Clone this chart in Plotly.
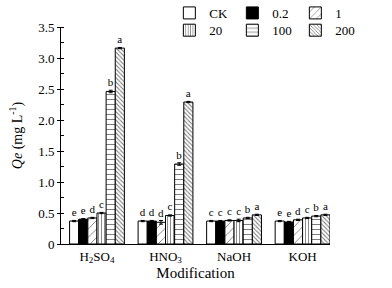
import plotly.graph_objects as go

categories = ["H<sub>2</sub>SO<sub>4</sub>", "HNO<sub>3</sub>", "NaOH", "KOH"]
series_names = ["CK", "0.2", "1", "20", "100", "200"]

ck = [0.37, 0.37, 0.37, 0.37]
c02 = [0.40, 0.37, 0.37, 0.355]
c1 = [0.42, 0.35, 0.38, 0.39]
c20 = [0.50, 0.46, 0.38, 0.42]
c100 = [2.46, 1.29, 0.42, 0.45]
c200 = [3.16, 2.29, 0.47, 0.47]
values = [ck, c02, c1, c20, c100, c200]

err_ck = [0.01, 0.01, 0.01, 0.01]
err_02 = [0.01, 0.01, 0.01, 0.01]
err_1 = [0.01, 0.03, 0.01, 0.01]
err_20 = [0.01, 0.01, 0.02, 0.01]
err_100 = [0.02, 0.02, 0.01, 0.01]
err_200 = [0.01, 0.01, 0.01, 0.01]
errors = [err_ck, err_02, err_1, err_20, err_100, err_200]

letters_ck = ["e", "d", "c", "e"]
letters_02 = ["e", "d", "c", "e"]
letters_1 = ["d", "d", "c", "d"]
letters_20 = ["c", "c", "c", "c"]
letters_100 = ["b", "b", "b", "b"]
letters_200 = ["a", "a", "a", "a"]
letters = [letters_ck, letters_02, letters_1, letters_20, letters_100, letters_200]

y_tickvals = [0, 0.5, 1.0, 1.5, 2.0, 2.5, 3.0, 3.5]
y_ticktext = ["0", "0.5", "1.0", "1.5", "2.0", "2.5", "3.0", "3.5"]

styles = [
    dict(color="white", pattern=dict(shape="")),
    dict(color="black", pattern=dict(shape="")),
    dict(color="white", pattern=dict(shape="/", fgcolor="black", bgcolor="white", size=6, solidity=0.15)),
    dict(color="white", pattern=dict(shape="|", fgcolor="black", bgcolor="white", size=3, solidity=0.3)),
    dict(color="white", pattern=dict(shape="-", fgcolor="black", bgcolor="white", size=5, solidity=0.2)),
    dict(color="white", pattern=dict(shape="\\", fgcolor="black", bgcolor="white", size=3, solidity=0.35)),
]

FONT = "Liberation Serif, Times New Roman, serif"

fig = go.Figure()
for i, name in enumerate(series_names):
    st = styles[i]
    fig.add_trace(go.Bar(
        x=categories, y=values[i], name=name,
        marker=dict(color=st["color"], pattern=st["pattern"],
                    line=dict(color="black", width=1)),
        error_y=dict(type="data", array=errors[i], color="black", thickness=1, width=2),
        text=letters[i], textposition="outside", constraintext="none",
        textfont=dict(family=FONT, size=11, color="black"),
        cliponaxis=False,
        legend="legend" if i < 3 else "legend2",
    ))

legend_common = dict(orientation="h", xref="container", yref="container",
                     xanchor="left", yanchor="middle",
                     bgcolor="rgba(0,0,0,0)", font=dict(family=FONT, size=13),
                     itemwidth=30, tracegroupgap=0, entrywidth=18, entrywidthmode="pixels")

fig.update_layout(
    width=392, height=288,
    margin=dict(l=61, r=62, t=27, b=44, autoexpand=False),
    paper_bgcolor="white", plot_bgcolor="white",
    font=dict(family=FONT, size=12, color="black"),
    barmode="group", bargap=0.2, bargroupgap=0,
    legend=dict(x=0.432, y=0.955, **legend_common),
    legend2=dict(x=0.432, y=0.895, **legend_common),
    xaxis=dict(showline=True, linecolor="black", linewidth=1, ticks="",
               range=[-0.525, 3.4], tickfont=dict(family=FONT, size=13),
               title=dict(text="Modification", font=dict(family=FONT, size=15), standoff=2)),
    yaxis=dict(showline=True, linecolor="black", linewidth=1, showgrid=False, zeroline=False,
               range=[0, 3.5], tickvals=y_tickvals, ticktext=y_ticktext,
               ticks="outside", ticklen=3, tickcolor="black",
               minor=dict(ticks="inside", dtick=0.25, ticklen=3, tickcolor="black"),
               tickfont=dict(family=FONT, size=13),
               title=dict(text="<i>Qe</i> (mg L<sup>-1</sup>)", font=dict(family=FONT, size=14), standoff=12)),
)

fig.write_html("out.html", config={"displayModeBar": False},
               post_script="document.body.style.margin='0';")
